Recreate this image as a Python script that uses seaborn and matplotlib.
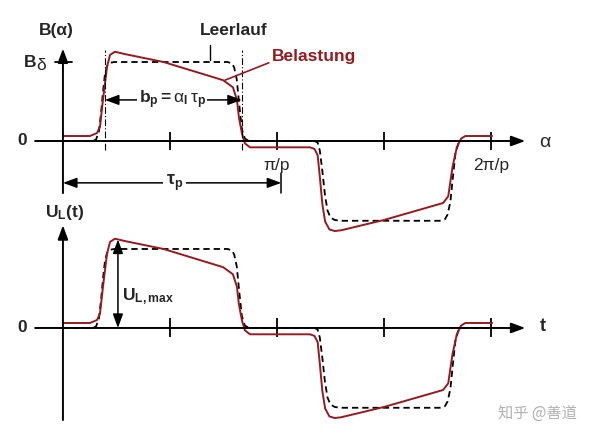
import matplotlib
matplotlib.use("Agg")
import matplotlib.pyplot as plt
import seaborn as sns

# wave shapes: x in units of pi/p, y in units of B_delta
bel_x = [0.0, 0.126, 0.159, 0.173, 0.187, 0.206, 0.22, 0.243, 0.29, 0.47, 0.748,
         0.794, 0.813, 0.822, 0.836, 0.85, 0.874, 1.154, 1.175, 1.19, 1.20, 1.212,
         1.225, 1.245, 1.27, 1.30, 1.50, 1.776, 1.80, 1.82, 1.84, 1.86, 1.88, 2.005]
bel_y = [0.063, 0.063, 0.10, 0.18, 0.52, 0.94, 1.09, 1.13, 1.10, 1.0, 0.77,
         0.68, 0.52, 0.30, 0.10, -0.03, -0.08, -0.08, -0.10, -0.18, -0.45, -0.80,
         -1.02, -1.12, -1.14, -1.13, -1.0, -0.785, -0.70, -0.33, -0.08, 0.03, 0.063, 0.063]

leer_x = [0.0, 0.14, 0.155, 0.168, 0.178, 0.187, 0.196, 0.206, 0.22, 0.24, 0.77,
          0.79, 0.80, 0.812, 0.824, 0.836, 0.85, 0.87, 1.175, 1.19, 1.20, 1.212,
          1.224, 1.236, 1.25, 1.27, 1.295, 1.76, 1.785, 1.797, 1.81, 1.822, 1.834,
          1.848, 1.868, 2.005]
leer_y = [0, 0, 0.02, 0.12, 0.35, 0.62, 0.84, 0.95, 0.99, 1.0, 1.0,
          0.98, 0.93, 0.78, 0.45, 0.15, 0.03, 0, 0, -0.02, -0.12, -0.38,
          -0.68, -0.88, -0.97, -1.0, -1.01, -1.01, -0.99, -0.93, -0.77, -0.45, -0.15,
          -0.03, 0, 0]

tick_x = [0.5, 1.0, 1.5, 2.0]
tick_labels = {1.0: "π/p", 2.0: "2π/p"}
pole_edges = [0.196, 0.836]   # b_p span
tau_p_end = 1.02
ul_max_x = 0.257
ul_max_y = 1.12

red = "#971a20"

sns.set_theme(style="white")
plt.rcParams["font.family"] = ["Liberation Sans", "DejaVu Sans"]
plt.rcParams["mathtext.fontset"] = "custom"
plt.rcParams["mathtext.rm"] = "Liberation Sans"
plt.rcParams["mathtext.it"] = "Liberation Sans:italic"
plt.rcParams["mathtext.bf"] = "Liberation Sans:bold"

fig = plt.figure(figsize=(6, 4.4), dpi=100)
fig.patch.set_facecolor("white")
ax2 = fig.add_axes([0, 0, 1, 240 / 440])
ax1 = fig.add_axes([0, 240 / 440, 1, 200 / 440])
ax1.set_ylim(-0.747, 1.785)
ax2.set_ylim(-1.418, 1.62)

arrow = dict(arrowstyle="-|>,head_length=0.6,head_width=0.22", color="black",
             lw=1.4, mutation_scale=14, shrinkA=0, shrinkB=0)
darrow = dict(arrow, arrowstyle="<|-|>,head_length=0.6,head_width=0.22", lw=1.1)

for ax, ybot, ytop in [(ax1, -0.66, 1.17), (ax2, -1.165, 1.30)]:
    ax.set_xlim(-0.294, 2.509)
    ax.axis("off")
    # axes with arrow heads
    ax.annotate("", xy=(2.16, 0), xytext=(-0.13, 0), arrowprops=arrow)
    ax.annotate("", xy=(0, ytop), xytext=(0, ybot), arrowprops=arrow)
    ax.vlines(tick_x, -0.11, 0.12, color="black", lw=1.3)
    ax.text(-0.19, 0, "0", fontsize=12.5, fontweight="bold", ha="center", va="center")
    # curves
    sns.lineplot(x=leer_x, y=leer_y, ax=ax, color="black", lw=1.3,
                 linestyle=(0, (3.5, 2.2)), sort=False, estimator=None, clip_on=False)
    sns.lineplot(x=bel_x, y=bel_y, ax=ax, color=red, lw=1.4,
                 sort=False, estimator=None, clip_on=False)

# top panel annotations
ax1.text(-0.03, 1.40, "B(α)", fontsize=12.5, fontweight="bold", ha="center", va="center")
ax1.plot([-0.037, 0.042], [1.0, 1.0], color="black", lw=1.3)
ax1.text(-0.125, 1.0, "B", fontsize=12.5, fontweight="bold", ha="right", va="center")
ax1.text(-0.125, 0.96, "δ", fontsize=12.5, ha="left", va="center")
for x, lab in tick_labels.items():
    ax1.text(x, -0.31, lab, fontsize=12.5, ha="center", va="center")
ax1.text(2.25, -0.02, "α", fontsize=14, ha="center", va="center")
ax1.vlines(pole_edges, -0.11, 1.15, color="black", lw=0.8, linestyles=[(0, (6, 2, 1, 2))])
ax1.annotate("", xy=(pole_edges[1], 0.52), xytext=(pole_edges[0], 0.52), arrowprops=darrow)
ax1.text(0.51, 0.52, r"$\mathbf{b_p=}\mathrm{\alpha}_\mathbf{I}\,\mathrm{\tau}_\mathbf{p}$",
         fontsize=12.5, ha="center", va="center",
         bbox=dict(facecolor="white", edgecolor="none", pad=1))
ax1.annotate("", xy=(tau_p_end, -0.53), xytext=(0, -0.53), arrowprops=darrow)
ax1.plot([tau_p_end, tau_p_end], [-0.40, -0.66], color="black", lw=1.1)
ax1.text(0.52, -0.53, r"$\mathbf{\tau_p}$", fontsize=13, ha="center", va="center",
         bbox=dict(facecolor="white", edgecolor="none", pad=2))
ax1.text(0.80, 1.40, "Leerlauf", fontsize=12.5, fontweight="bold", ha="center", va="center")
ax1.plot([0.687, 0.687], [1.215, 1.03], color="black", lw=1.0)
ax1.text(0.975, 1.07, "Belastung", fontsize=12.5, fontweight="bold", color=red,
         ha="left", va="center")
ax1.plot([0.962, 0.757], [0.99, 0.77], color=red, lw=1.2)

# bottom panel annotations
ax2.text(0.01, 1.46, r"$\mathbf{U_L(t)}$", fontsize=12.5, ha="center", va="center")
ax2.text(2.243, 0.02, "t", fontsize=13, fontweight="bold", ha="center", va="center")
ax2.annotate("", xy=(ul_max_x, ul_max_y), xytext=(ul_max_x, 0), arrowprops=darrow)
ax2.text(ul_max_x + 0.02, 0.40, r"$\mathbf{U_{L,max}}$", fontsize=12.5, ha="left", va="center")
ax2.text(2.215, -1.076, "知乎 @善道", fontsize=11, color="#b0b0b0", ha="center", va="center",
         family=["Noto Sans CJK SC", "DejaVu Sans"])

fig.savefig("out.png", dpi=100)
